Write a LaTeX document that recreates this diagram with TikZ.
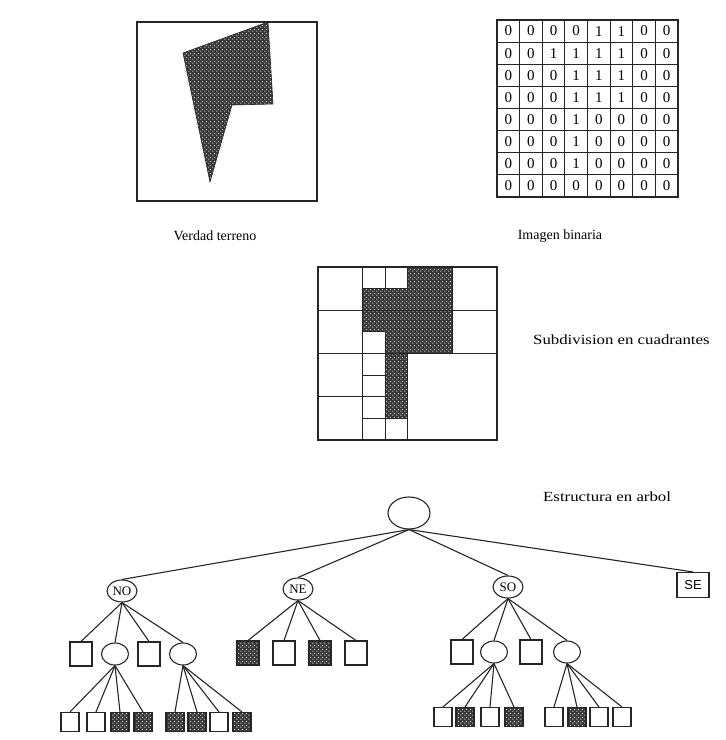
\documentclass[tikz,border=0pt]{standalone}
\usepackage{fontspec}
\setmainfont{Liberation Serif}
\newfontfamily\widefont[FakeStretch=1.2]{Liberation Serif}
\newfontfamily\boxsans{Liberation Sans}
\usetikzlibrary{shapes.geometric,patterns.meta}

% dark halftone screen: white dots on a dark ground
\tikzdeclarepattern{
  name=halftone, type=uncolored,
  bounding box={(0pt,0pt) and (4pt,4pt)},
  tile size={(4pt,4pt)},
  code={\fill (1pt,1pt) circle (0.75pt); \fill (3pt,3pt) circle (0.75pt);}
}

\tikzset{
  ink/.style={draw=black!85, line width=1.1pt},
  dotfill/.style={preaction={fill=black!78}, pattern=halftone, pattern color=white!88!black},
  caption/.style={font=\fontsize{14}{16}\selectfont, inner sep=0},
  widecap/.style={font=\widefont\fontsize{14}{16}\selectfont, inner sep=0, anchor=west},
  digit/.style={font=\fontsize{15}{17}\selectfont, inner sep=0},
  bigroot/.style={ellipse, ink, minimum width=42pt, minimum height=32pt, inner sep=0},
  quad/.style={ellipse, ink, minimum width=30pt, minimum height=22pt, inner sep=0, font=\fontsize{13}{15}\selectfont},
  branch/.style={ellipse, ink, minimum width=27pt, minimum height=22pt, inner sep=0},
  leafw/.style={rectangle, ink, minimum width=22pt, minimum height=24pt, inner sep=0},
  leafb/.style={leafw, dotfill},
  tinyw/.style={rectangle, ink, minimum width=18pt, minimum height=19pt, inner sep=0},
  tinyb/.style={tinyw, dotfill},
  link/.style={draw=black!85, line width=1.1pt},
  gridline/.style={draw=black!85, line width=0.9pt},
}

\begin{document}
\begin{tikzpicture}[x=1pt, y={(0pt,-1pt)}]
\useasboundingbox (0,0) rectangle (726,740);

% ---------- ground truth polygon ----------
\draw[ink, line width=1.5pt] (137,22) rectangle (317,201);
\draw[dotfill, draw=black!85, line width=0.6pt]
  (268,22) -- (183,53) -- (210,182) -- (232,105) -- (273,104) -- cycle;
\node[caption] (capA) at (215,236) {Verdad terreno};

% ---------- binary raster ----------
\begin{scope}[shift={(497,20)}, x=22.625pt, y={(0pt,-22.125pt)}]
  \foreach \k in {1,...,7} {
    \draw[gridline] (\k,0) -- (\k,8);
    \draw[gridline] (0,\k) -- (8,\k);
  }
  \draw[ink, line width=1.4pt] (0,0) rectangle (8,8);
  \foreach \row [count=\r from 0] in
    {{0,0,0,0,1,1,0,0},{0,0,1,1,1,1,0,0},{0,0,0,1,1,1,0,0},{0,0,0,1,1,1,0,0},
     {0,0,0,1,0,0,0,0},{0,0,0,1,0,0,0,0},{0,0,0,1,0,0,0,0},{0,0,0,0,0,0,0,0}} {
    \foreach \v [count=\c from 0] in \row {
      \node[digit] (bit-\r-\c) at (\c+0.5,\r+0.5) {\v};
    }
  }
\end{scope}
\node[caption] (capB) at (560,236) {Imagen binaria};

% ---------- quadrant subdivision ----------
\begin{scope}[shift={(318,267)}, x=22.375pt, y={(0pt,-21.625pt)}]
  \fill[dotfill] (4,0) -- (6,0) -- (6,4) -- (4,4) -- (4,7) -- (3,7) -- (3,3)
    -- (2,3) -- (2,1) -- (4,1) -- cycle;
  \draw[ink, line width=1.4pt] (0,0) rectangle (8,8);
  \draw[gridline] (0,2) -- (8,2);
  \draw[gridline] (0,4) -- (8,4);
  \draw[gridline] (0,6) -- (3,6);
  \draw[gridline] (2,0) -- (2,8);
  \draw[gridline] (6,0) -- (6,4);
  \draw[gridline] (4,0) -- (4,1);
  \draw[gridline] (4,4) -- (4,8);
  \draw[gridline] (3,0) -- (3,1);
  \draw[gridline] (3,3) -- (3,8);
  \draw[gridline] (2,1) -- (4,1);
  \draw[gridline] (2,3) -- (3,3);
  \draw[gridline] (2,5) -- (3,5);
  \draw[gridline] (2,7) -- (4,7);
\end{scope}
\node[widecap] (capC) at (533,340) {Subdivision en cuadrantes};

% ---------- quadtree ----------
\node[widecap] (capD) at (543,497) {Estructura en arbol};

\node[bigroot] (root) at (409,513) {};
\node[quad] (no) at (122,591) {NO};
\node[quad] (ne) at (298,589) {NE};
\node[quad] (so) at (508,587) {SO};
\node[rectangle, ink, minimum width=32pt, minimum height=25pt, inner sep=0,
      font=\boxsans\fontsize{13}{15}\selectfont] (se) at (693,585) {SE};

% second level
\node[leafw]  (noa) at (81,654)  {};
\node[branch] (nob) at (115,654) {};
\node[leafw]  (noc) at (149,654) {};
\node[branch] (nod) at (183,654) {};

\node[leafb] (nea) at (248,653) {};
\node[leafw] (neb) at (284,653) {};
\node[leafb] (nec) at (320,653) {};
\node[leafw] (ned) at (356,653) {};

\node[leafw]  (soa) at (462,652) {};
\node[branch] (sob) at (494,652) {};
\node[leafw]  (soc) at (531,652) {};
\node[branch] (sod) at (567,652) {};

% third level
\node[tinyw] (nob1) at (70,722)  {};
\node[tinyw] (nob2) at (96,722)  {};
\node[tinyb] (nob3) at (120,722) {};
\node[tinyb] (nob4) at (143,722) {};
\node[tinyb] (nod1) at (175,722) {};
\node[tinyb] (nod2) at (197,722) {};
\node[tinyw] (nod3) at (219,722) {};
\node[tinyb] (nod4) at (242,722) {};

\node[tinyw] (sob1) at (443,717) {};
\node[tinyb] (sob2) at (465,717) {};
\node[tinyw] (sob3) at (490,717) {};
\node[tinyb] (sob4) at (514,717) {};
\node[tinyw] (sod1) at (554,717) {};
\node[tinyb] (sod2) at (577,717) {};
\node[tinyw] (sod3) at (599,717) {};
\node[tinyw] (sod4) at (622,717) {};

\foreach \p/\c in {root/no, root/ne, root/so, root/se,
                   no/noa, no/nob, no/noc, no/nod,
                   ne/nea, ne/neb, ne/nec, ne/ned,
                   so/soa, so/sob, so/soc, so/sod,
                   nob/nob1, nob/nob2, nob/nob3, nob/nob4,
                   nod/nod1, nod/nod2, nod/nod3, nod/nod4,
                   sob/sob1, sob/sob2, sob/sob3, sob/sob4,
                   sod/sod1, sod/sod2, sod/sod3, sod/sod4}
  \draw[link] (\p.south) -- (\c.north);
\end{tikzpicture}
\end{document}
